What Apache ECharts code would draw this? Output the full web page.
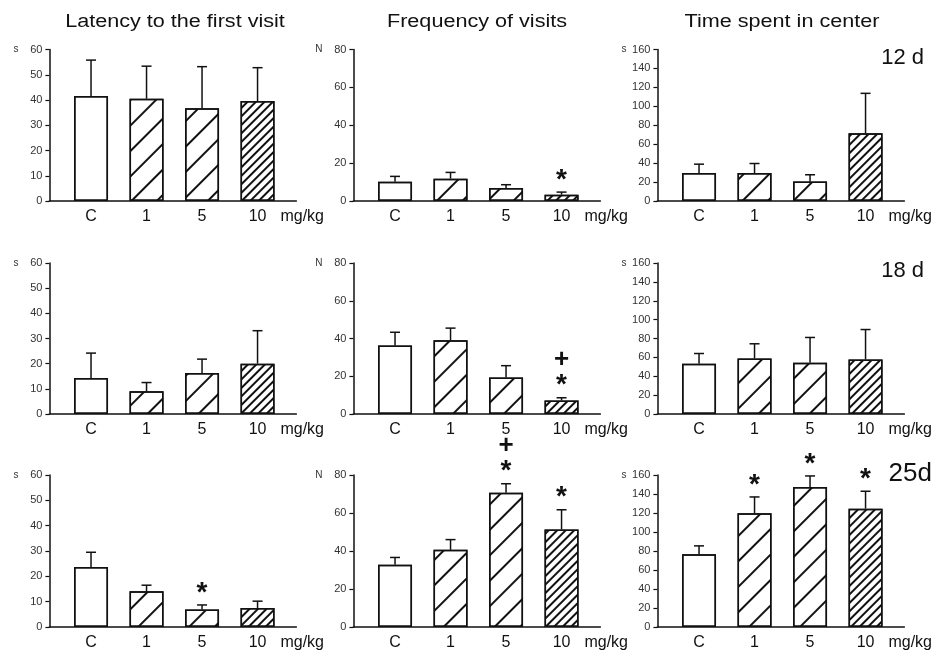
<!DOCTYPE html>
<html>
<head>
<meta charset="utf-8">
<script src="https://cdn.jsdelivr.net/npm/echarts@6/dist/echarts.min.js"></script>
<style>html,body{margin:0;padding:0;background:#fff;}#c{width:934px;height:653px;}</style>
</head>
<body>
<div id="c"></div>
<script>
// ---- data ----
const categories = ['C', '1', '5', '10'];
const titles = ['Latency to the first visit', 'Frequency of visits', 'Time spent in center'];
const dayLabels = ['12 d', '18 d', '25d'];
const yUnits = ['s', 'N', 's'];
const yMax = [60, 80, 160];
const yInterval = [10, 20, 20];

const latency12 = [41.6, 40.5, 36.7, 39.6];
const latency12Sem = [14.2, 12.9, 16.5, 13.2];
const freq12 = [10.2, 11.8, 6.8, 3.3];
const freq12Sem = [2.8, 3.3, 1.8, 1.4];
const time12 = [29.5, 29.5, 20.7, 71.6];
const time12Sem = [9.4, 10.1, 7.0, 42.1];

const latency18 = [14.3, 9.0, 16.3, 20.0];
const latency18Sem = [9.9, 3.5, 5.5, 13.1];
const freq18 = [36.3, 39.1, 19.4, 7.2];
const freq18Sem = [7.0, 6.4, 6.2, 1.4];
const time18 = [53.2, 58.9, 54.3, 57.8];
const time18Sem = [10.9, 15.5, 26.8, 31.7];

const latency25 = [23.7, 14.1, 6.9, 7.5];
const latency25Sem = [5.8, 2.4, 1.8, 2.7];
const freq25 = [32.7, 40.6, 70.7, 51.3];
const freq25Sem = [3.9, 5.4, 4.7, 10.4];
const time25 = [76.7, 119.7, 147.4, 124.6];
const time25Sem = [8.7, 17.2, 11.6, 18.3];

// significance marks per bar (* vs control, + vs other)
const noMarks = [[], [], [], []];
const freq12Marks = [[], [], [], ['*']];
const freq18Marks = [[], [], [], ['*', '+']];
const latency25Marks = [[], [], ['*'], []];
const freq25Marks = [[], [], ['*', '+'], ['*']];
const time25Marks = [[], ['*'], ['*'], ['*']];

const panels = [
  [latency12, latency12Sem, noMarks], [freq12, freq12Sem, freq12Marks], [time12, time12Sem, noMarks],
  [latency18, latency18Sem, noMarks], [freq18, freq18Sem, freq18Marks], [time18, time18Sem, noMarks],
  [latency25, latency25Sem, latency25Marks], [freq25, freq25Sem, freq25Marks], [time25, time25Sem, time25Marks]
];

// ---- layout / style ----
const FONT = '"Liberation Sans", Arial, sans-serif';
const colLeft = [49.4, 353.4, 657.4];
const gridWidth = 247;
const rowTop = [49.5, 263, 475];
const rowHeight = [151.5, 151, 152];
const emptyDecal = {symbol: 'rect', symbolSize: 1, color: 'rgba(0,0,0,0)', dashArrayX: [1, 0], dashArrayY: [1, 4], rotation: 0};
const wideDecal = {symbol: 'rect', symbolSize: 1, color: '#111', dashArrayX: [1, 0], dashArrayY: [1.4, 15.5], rotation: -Math.PI / 4};
const denseDecal = {symbol: 'rect', symbolSize: 1, color: '#111', dashArrayX: [1, 0], dashArrayY: [1.2, 3.4], rotation: -Math.PI / 4};
const barDecals = [emptyDecal, wideDecal, wideDecal, denseDecal];

const grids = [], xAxes = [], yAxes = [], series = [];
panels.forEach((p, k) => {
  const row = Math.floor(k / 3), col = k % 3;
  const [means, sems, marks] = p;
  grids.push({left: colLeft[col], top: rowTop[row], width: gridWidth, height: rowHeight[row]});
  xAxes.push({
    type: 'value', gridIndex: k, min: -0.75, max: 3.7, interval: 0.25,
    axisLine: {show: true, onZero: false, lineStyle: {color: '#111', width: 1.5}},
    axisTick: {show: false}, splitLine: {show: false},
    axisLabel: {
      margin: 8, fontSize: 16, color: '#111', fontFamily: FONT,
      showMinLabel: true, showMaxLabel: true,
      formatter: v => { const i = Math.round(v); return (Math.abs(v - i) < 1e-6 && i >= 0 && i < categories.length) ? categories[i] : ''; }
    },
    name: 'mg/kg', nameLocation: 'end', nameGap: -16,
    nameTextStyle: {fontSize: 16, color: '#111', fontFamily: FONT, align: 'left', verticalAlign: 'top', padding: [8, 0, 0, 0]}
  });
  yAxes.push({
    type: 'value', gridIndex: k, min: 0, max: yMax[col], interval: yInterval[col],
    axisLine: {show: true, onZero: false, lineStyle: {color: '#111', width: 1.5}},
    axisTick: {show: true, length: 4, lineStyle: {color: '#111', width: 1.2}},
    splitLine: {show: false},
    axisLabel: {margin: 7, fontSize: 11, color: '#333', fontFamily: FONT},
    name: yUnits[col], nameLocation: 'end', nameGap: 0,
    nameTextStyle: {fontSize: 10, color: '#333', fontFamily: FONT, align: 'right', verticalAlign: 'middle', padding: [0, 31, 0, 0]}
  });
  series.push({
    type: 'bar', xAxisIndex: k, yAxisIndex: k, barWidth: 34, z: 2,
    itemStyle: {color: '#fff', borderColor: '#111', borderWidth: 1.5, decal: emptyDecal},
    data: means.map((v, i) => ({value: [i, v], itemStyle: {color: '#fff', borderColor: '#111', borderWidth: 1.5, decal: barDecals[i]}})),
    animation: false
  });
  series.push({
    type: 'custom', xAxisIndex: k, yAxisIndex: k, z: 3, clip: false,
    data: means.map((v, i) => [i, v, sems[i]]),
    renderItem: (params, api) => {
      const x = api.value(0), m = api.value(1), s = api.value(2);
      const p0 = api.coord([x, m]);
      const p1 = api.coord([x, m + s]);
      const ls = {stroke: '#111', lineWidth: 1.5};
      const children = [
        {type: 'line', shape: {x1: p0[0], y1: p0[1], x2: p1[0], y2: p1[1]}, style: ls},
        {type: 'line', shape: {x1: p1[0] - 5, y1: p1[1], x2: p1[0] + 5, y2: p1[1]}, style: ls}
      ];
      const mk = marks[params.dataIndex] || [];
      mk.forEach((t, j) => {
        const isStar = t === '*';
        const y = p1[1] - (j === 0 ? 12 : 38);
        children.push({type: 'text', x: p1[0], y: y,
          style: {text: t, fill: '#111', font: 'bold ' + (isStar ? 28 : 26) + 'px ' + FONT, align: 'center', verticalAlign: 'middle'}});
      });
      return {type: 'group', children};
    },
    animation: false
  });
});

const graphics = [];
const titleX = [175, 477, 782];
titles.forEach((t, i) => graphics.push({type: 'text', x: titleX[i], y: 22, scaleX: 1.2, scaleY: 1,
  style: {text: t, font: '18px ' + FONT, fill: '#111', align: 'center', verticalAlign: 'middle'}}));
const dayY = [58, 271, 474];
const dayX = [924, 924, 932];
dayLabels.forEach((t, i) => graphics.push({type: 'text', x: dayX[i], y: dayY[i],
  style: {text: t, font: (i === 2 ? 26 : 22) + 'px ' + FONT, fill: '#111', align: 'right', verticalAlign: 'middle'}}));

const chart = echarts.init(document.getElementById('c'), null, {renderer: 'canvas'});
chart.setOption({
  animation: false,
  backgroundColor: '#fff',
  aria: {enabled: true, decal: {show: true}},
  grid: grids, xAxis: xAxes, yAxis: yAxes, series: series,
  graphic: graphics
});
</script>
</body>
</html>
